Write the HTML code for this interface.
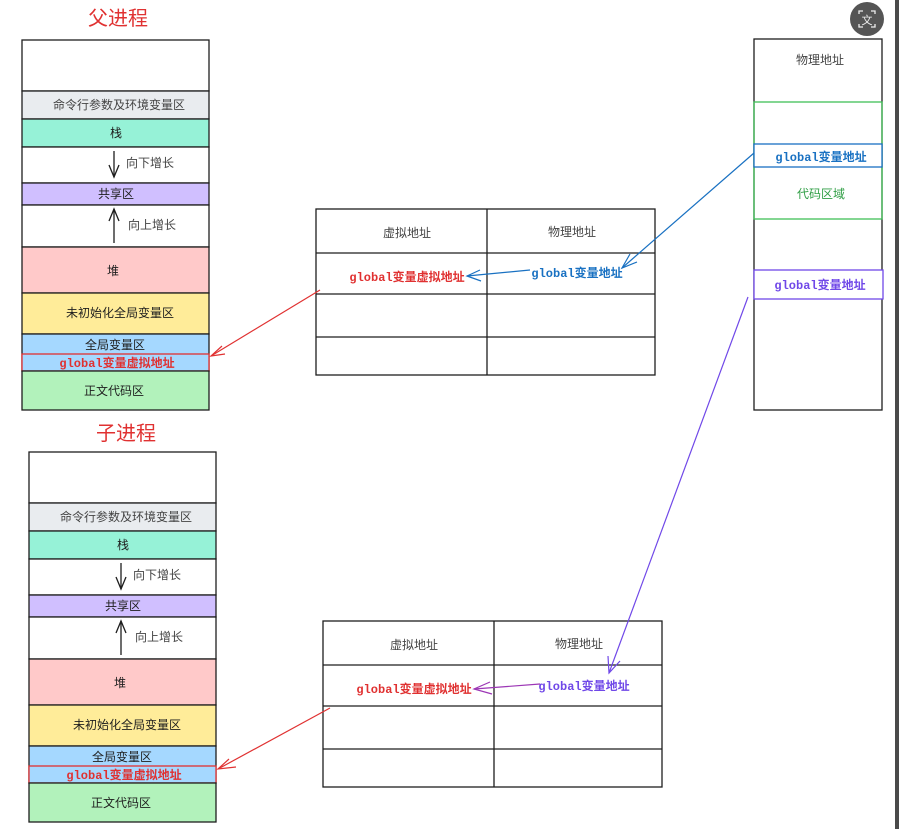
<!DOCTYPE html>
<html><head><meta charset="utf-8"><style>
html,body{margin:0;padding:0;background:#fff;}
svg{display:block;}
text{font-family:"Liberation Sans","Noto Sans CJK SC",sans-serif;font-size:12px;}
.m{font-family:"Liberation Mono","Noto Sans CJK SC",monospace;font-weight:bold;}
.t{font-size:20px;}
</style></head><body>
<svg width="899" height="829" viewBox="0 0 899 829" xmlns="http://www.w3.org/2000/svg" fill="#1e1e1e">
<defs>
<g id="stack">
 <rect x="22" y="40" width="187" height="51" fill="#fff" stroke="#1e1e1e" stroke-width="1.3"/>
 <rect x="22" y="91" width="187" height="28" fill="#e9ecef" stroke="#1e1e1e" stroke-width="1.3"/>
 <text x="119" y="109" text-anchor="middle" fill="#444">命令行参数及环境变量区</text>
 <rect x="22" y="119" width="187" height="28" fill="#96f2d7" stroke="#1e1e1e" stroke-width="1.3"/>
 <text x="116" y="137" text-anchor="middle" fill="#1e1e1e">栈</text>
 <rect x="22" y="147" width="187" height="36" fill="#fff" stroke="#1e1e1e" stroke-width="1.3"/>
 <line x1="114" y1="151" x2="114" y2="177" stroke="#1e1e1e" stroke-width="1.3"/>
 <polyline points="109,165 114,177 119,165" fill="none" stroke="#1e1e1e" stroke-width="1.3"/>
 <text x="126" y="167" fill="#444">向下增长</text>
 <rect x="22" y="183" width="187" height="22" fill="#d0bfff" stroke="#1e1e1e" stroke-width="1.3"/>
 <text x="116" y="198" text-anchor="middle" fill="#1e1e1e">共享区</text>
 <rect x="22" y="205" width="187" height="42" fill="#fff" stroke="#1e1e1e" stroke-width="1.3"/>
 <line x1="114" y1="209" x2="114" y2="243" stroke="#1e1e1e" stroke-width="1.3"/>
 <polyline points="109,221 114,209 119,221" fill="none" stroke="#1e1e1e" stroke-width="1.3"/>
 <text x="128" y="229" fill="#444">向上增长</text>
 <rect x="22" y="247" width="187" height="46" fill="#ffc9c9" stroke="#1e1e1e" stroke-width="1.3"/>
 <text x="113" y="275" text-anchor="middle" fill="#1e1e1e">堆</text>
 <rect x="22" y="293" width="187" height="41" fill="#ffec99" stroke="#1e1e1e" stroke-width="1.3"/>
 <text x="120" y="317" text-anchor="middle" fill="#1e1e1e">未初始化全局变量区</text>
 <rect x="22" y="334" width="187" height="37" fill="#a5d8ff" stroke="#1e1e1e" stroke-width="1.3"/>
 <text x="115" y="349" text-anchor="middle" fill="#1e1e1e">全局变量区</text>
 <rect x="22" y="354" width="187" height="17" fill="#a5d8ff" stroke="#e03131" stroke-width="1.3"/>
 <text x="117" y="367" text-anchor="middle" class="m" fill="#e03131">global变量虚拟地址</text>
 <rect x="22" y="371" width="187" height="39" fill="#b2f2bb" stroke="#1e1e1e" stroke-width="1.3"/>
 <text x="114" y="395" text-anchor="middle" fill="#1e1e1e">正文代码区</text>
</g>
<g id="table">
 <rect x="316" y="209" width="339" height="166" fill="#fff" stroke="#1e1e1e" stroke-width="1.3"/>
 <line x1="487" y1="209" x2="487" y2="375" stroke="#1e1e1e" stroke-width="1.3"/>
 <line x1="316" y1="253" x2="655" y2="253" stroke="#1e1e1e" stroke-width="1.3"/>
 <line x1="316" y1="294" x2="655" y2="294" stroke="#1e1e1e" stroke-width="1.3"/>
 <line x1="316" y1="337" x2="655" y2="337" stroke="#1e1e1e" stroke-width="1.3"/>
 <text x="407" y="237" text-anchor="middle" fill="#444">虚拟地址</text>
 <text x="572" y="236" text-anchor="middle" fill="#444">物理地址</text>
 <text x="407" y="281" text-anchor="middle" class="m" fill="#e03131">global变量虚拟地址</text>
</g>
</defs>

<text x="118" y="25" text-anchor="middle" class="t" fill="#e03131">父进程</text>
<use href="#stack"/>
<text x="126" y="440" text-anchor="middle" class="t" fill="#e03131">子进程</text>
<use href="#stack" transform="translate(7,412)"/>

<use href="#table"/>
<text x="577" y="277" text-anchor="middle" class="m" fill="#1971c2">global变量地址</text>
<use href="#table" transform="translate(7,412)"/>
<text x="584" y="690" text-anchor="middle" class="m" fill="#7048e8">global变量地址</text>

<rect x="754" y="39" width="128" height="371" fill="#fff" stroke="#1e1e1e" stroke-width="1.3"/>
<text x="820" y="64" text-anchor="middle" fill="#444">物理地址</text>
<rect x="754" y="102" width="128" height="117" fill="none" stroke="#40c057" stroke-width="1.3"/>
<text x="821" y="198" text-anchor="middle" fill="#2f9e44">代码区域</text>
<rect x="754" y="144" width="128" height="23" fill="#fff" stroke="#1971c2" stroke-width="1.3"/>
<text x="821" y="161" text-anchor="middle" class="m" fill="#1971c2">global变量地址</text>
<rect x="754" y="270" width="129" height="29" fill="#fff" stroke="#7048e8" stroke-width="1.3"/>
<text x="820" y="289" text-anchor="middle" class="m" fill="#7048e8">global变量地址</text>

<g fill="none" stroke-width="1.2">
 <line x1="754" y1="153" x2="622" y2="268" stroke="#1971c2"/>
 <polyline points="630,254 622,268 637,262" stroke="#1971c2"/>
 <line x1="530" y1="270" x2="467" y2="276" stroke="#1971c2"/>
 <polyline points="480,270 467,276 481,281" stroke="#1971c2"/>
 <line x1="320" y1="290" x2="211" y2="356" stroke="#e03131"/>
 <polyline points="222,346 211,356 225,354" stroke="#e03131"/>
 <line x1="748" y1="297" x2="609" y2="673" stroke="#7048e8"/>
 <polyline points="608,656 609,673 620,661" stroke="#7048e8"/>
 <line x1="540" y1="684" x2="474" y2="689" stroke="#9c36b5"/>
 <polyline points="490,682 474,689 492,694" stroke="#9c36b5"/>
 <line x1="330" y1="708" x2="218" y2="769" stroke="#e03131"/>
 <polyline points="229,759 218,769 236,767" stroke="#e03131"/>
</g>

<circle cx="867" cy="19" r="17" fill="#555"/>
<path d="M859 14v-3h4M875 14v-3h-4M859 24v3h4M875 24v3h-4" stroke="#eee" stroke-width="1.3" fill="none"/>
<text x="867" y="24" text-anchor="middle" style="font-size:11px" fill="#eee">文</text>
<rect x="895" y="0" width="4" height="829" fill="#4a4a4a"/>
</svg>
</body></html>
